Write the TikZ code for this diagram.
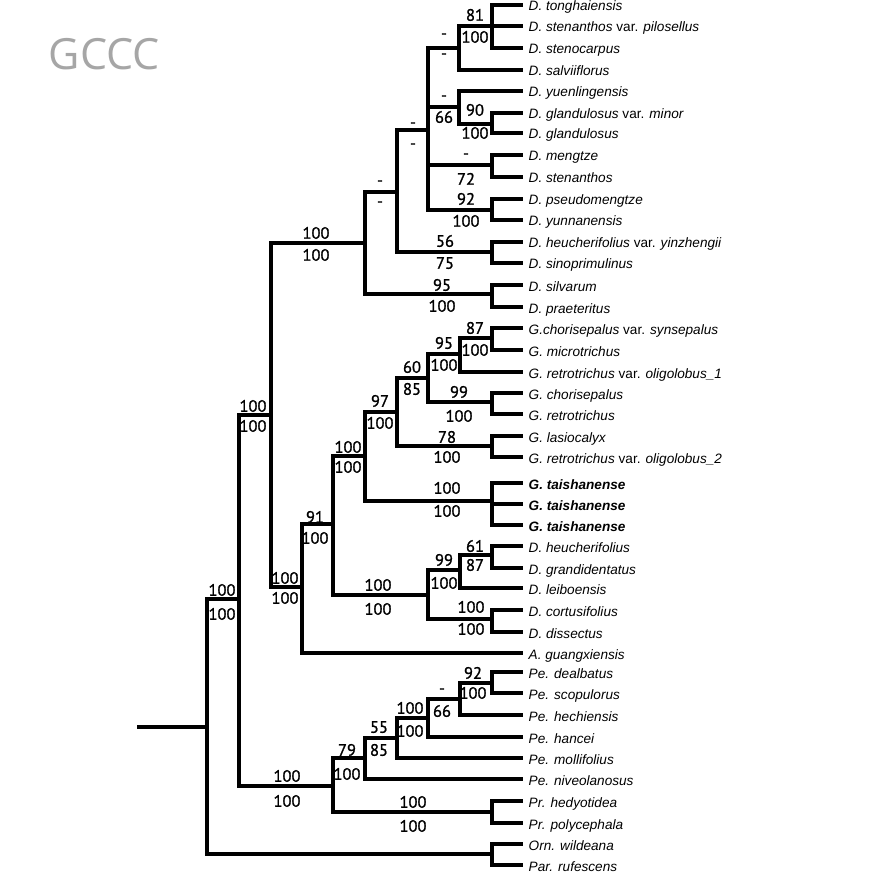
\documentclass[tikz,border=0pt]{standalone}
\usepackage{fontspec}
\setmainfont{Liberation Sans}
\newfontfamily\supfont[FakeBold=1.2]{PT Sans}
\newfontfamily\titlefont{Open Sans}
\begin{document}
\begin{tikzpicture}[x=1pt,y=-1pt,
  branch/.style={line width=3.3pt, line join=miter},
  leaf/.style={anchor=west, inner xsep=5.5pt, inner ysep=0pt, text height=15pt, text depth=3pt, font=\fontsize{13.6}{14}\selectfont\itshape},
  taish/.style={leaf, font=\fontsize{13.6}{14}\selectfont\bfseries\itshape},
  sup/.style={inner sep=0pt, text height=11.5pt, text depth=0pt, font=\supfont\fontsize{16.5}{17}\selectfont},
  title/.style={anchor=base west, inner sep=0pt, text=black!35, font=\titlefont\fontsize{43}{43}\selectfont}]
\useasboundingbox (0,0) rectangle (871,874);
\fill[white] (0,0) rectangle (871,874);
\node[title] (ttl) at (48.5,70) {GCCC};
% leaves
\node[leaf] (n1) at (523,5) {D. tonghaiensis};
\node[leaf] (n2) at (523,26) {D. stenanthos {\upshape var.} pilosellus};
\node[leaf] (n3) at (523,48) {D. stenocarpus};
\node[leaf] (n4) at (523,70) {D. salviiflorus};
\node[leaf] (n5) at (523,91) {D. yuenlingensis};
\node[leaf] (n6) at (523,113) {D. glandulosus {\upshape var.} minor};
\node[leaf] (n7) at (523,133) {D. glandulosus};
\node[leaf] (n8) at (523,155) {D. mengtze};
\node[leaf] (n9) at (523,177) {D. stenanthos};
\node[leaf] (n10) at (523,199) {D. pseudomengtze};
\node[leaf] (n11) at (523,220) {D. yunnanensis};
\node[leaf] (n12) at (523,242) {D. heucherifolius {\upshape var.} yinzhengii};
\node[leaf] (n13) at (523,263) {D. sinoprimulinus};
\node[leaf] (n14) at (523,285) {D. silvarum};
\node[leaf] (n15) at (523,307) {D. praeteritus};
\node[leaf] (n16) at (523,328) {G.chorisepalus {\upshape var.} synsepalus};
\node[leaf] (n17) at (523,350) {G. microtrichus};
\node[leaf] (n18) at (523,372) {G. retrotrichus {\upshape var.} oligolobus\_1};
\node[leaf] (n19) at (523,393) {G. chorisepalus};
\node[leaf] (n20) at (523,414) {G. retrotrichus};
\node[leaf] (n21) at (523,436) {G. lasiocalyx};
\node[leaf] (n22) at (523,457) {G. retrotrichus {\upshape var.} oligolobus\_2};
\node[taish] (n23) at (523,483) {G. taishanense};
\node[taish] (n24) at (523,504) {G. taishanense};
\node[taish] (n25) at (523,525) {G. taishanense};
\node[leaf] (n26) at (523,546) {D. heucherifolius};
\node[leaf] (n27) at (523,568) {D. grandidentatus};
\node[leaf] (n28) at (523,588) {D. leiboensis};
\node[leaf] (n29) at (523,610) {D. cortusifolius};
\node[leaf] (n30) at (523,632) {D. dissectus};
\node[leaf] (n31) at (523,653) {A. guangxiensis};
\node[leaf] (n32) at (523,672) {Pe. dealbatus};
\node[leaf] (n33) at (523,693) {Pe. scopulorus};
\node[leaf] (n34) at (523,715) {Pe. hechiensis};
\node[leaf] (n35) at (523,737) {Pe. hancei};
\node[leaf] (n36) at (523,758) {Pe. mollifolius};
\node[leaf] (n37) at (523,779) {Pe. niveolanosus};
\node[leaf] (n38) at (523,801) {Pr. hedyotidea};
\node[leaf] (n39) at (523,823) {Pr. polycephala};
\node[leaf] (n40) at (523,844) {Orn. wildeana};
\node[leaf] (n41) at (523,865) {Par. rufescens};
% internal nodes
\coordinate (A) at (492,26);
\coordinate (B) at (459,48);
\coordinate (G) at (492,124);
\coordinate (D) at (459,107);
\coordinate (E) at (492,165);
\coordinate (F) at (492,210);
\coordinate (C) at (428,130);
\coordinate (I) at (492,252);
\coordinate (H) at (397,192);
\coordinate (K) at (492,294);
\coordinate (J) at (365,243);
\coordinate (X) at (492,338);
\coordinate (W) at (460,354);
\coordinate (V) at (492,402);
\coordinate (U) at (428,378);
\coordinate (T) at (492,446);
\coordinate (S) at (397,412);
\coordinate (R) at (492,501);
\coordinate (Q) at (365,456);
\coordinate (AA) at (492,555);
\coordinate (Z) at (460,570);
\coordinate (BB) at (492,619);
\coordinate (Y) at (428,595);
\coordinate (P) at (333,524);
\coordinate (O) at (302,587);
\coordinate (L) at (271,415);
\coordinate (II) at (492,683);
\coordinate (HH) at (460,699);
\coordinate (GG) at (428,718);
\coordinate (FF) at (397,738);
\coordinate (DD) at (365,758);
\coordinate (EE) at (492,812);
\coordinate (CC) at (333,786);
\coordinate (M) at (239,599);
\coordinate (JJ) at (492,854);
\coordinate (N) at (207,727);
\coordinate (root) at (137,727);
% connectors
\draw[branch] (A) |- (n1.west); \draw[branch] (A) |- (n2.west); \draw[branch] (A) |- (n3.west);
\draw[branch] (B) |- (A); \draw[branch] (B) |- (n4.west);
\draw[branch] (G) |- (n6.west); \draw[branch] (G) |- (n7.west);
\draw[branch] (D) |- (n5.west); \draw[branch] (D) |- (G);
\draw[branch] (E) |- (n8.west); \draw[branch] (E) |- (n9.west);
\draw[branch] (F) |- (n10.west); \draw[branch] (F) |- (n11.west);
\draw[branch] (C) |- (B); \draw[branch] (C) |- (D); \draw[branch] (C) |- (E); \draw[branch] (C) |- (F);
\draw[branch] (I) |- (n12.west); \draw[branch] (I) |- (n13.west);
\draw[branch] (H) |- (C); \draw[branch] (H) |- (I);
\draw[branch] (K) |- (n14.west); \draw[branch] (K) |- (n15.west);
\draw[branch] (J) |- (H); \draw[branch] (J) |- (K);
\draw[branch] (X) |- (n16.west); \draw[branch] (X) |- (n17.west);
\draw[branch] (W) |- (X); \draw[branch] (W) |- (n18.west);
\draw[branch] (V) |- (n19.west); \draw[branch] (V) |- (n20.west);
\draw[branch] (U) |- (W); \draw[branch] (U) |- (V);
\draw[branch] (T) |- (n21.west); \draw[branch] (T) |- (n22.west);
\draw[branch] (S) |- (U); \draw[branch] (S) |- (T);
\draw[branch] (R) |- (n23.west); \draw[branch] (R) |- (n24.west); \draw[branch] (R) |- (n25.west);
\draw[branch] (Q) |- (S); \draw[branch] (Q) |- (R);
\draw[branch] (AA) |- (n26.west); \draw[branch] (AA) |- (n27.west);
\draw[branch] (Z) |- (AA); \draw[branch] (Z) |- (n28.west);
\draw[branch] (BB) |- (n29.west); \draw[branch] (BB) |- (n30.west);
\draw[branch] (Y) |- (Z); \draw[branch] (Y) |- (BB);
\draw[branch] (P) |- (Q); \draw[branch] (P) |- (Y);
\draw[branch] (O) |- (P); \draw[branch] (O) |- (n31.west);
\draw[branch] (L) |- (J); \draw[branch] (L) |- (O);
\draw[branch] (II) |- (n32.west); \draw[branch] (II) |- (n33.west);
\draw[branch] (HH) |- (II); \draw[branch] (HH) |- (n34.west);
\draw[branch] (GG) |- (HH); \draw[branch] (GG) |- (n35.west);
\draw[branch] (FF) |- (GG); \draw[branch] (FF) |- (n36.west);
\draw[branch] (DD) |- (FF); \draw[branch] (DD) |- (n37.west);
\draw[branch] (EE) |- (n38.west); \draw[branch] (EE) |- (n39.west);
\draw[branch] (CC) |- (DD); \draw[branch] (CC) |- (EE);
\draw[branch] (M) |- (L); \draw[branch] (M) |- (CC);
\draw[branch] (JJ) |- (n40.west); \draw[branch] (JJ) |- (n41.west);
\draw[branch] (N) |- (M); \draw[branch] (N) |- (JJ);
\draw[branch] (root) -- (N);
% support values
\node[sup] (sA1) at (475,15) {81};   \node[sup] (sA2) at (475,37) {100};
\node[sup] (sB1) at (444,33) {-};    \node[sup] (sB2) at (444,53) {-};
\node[sup] (sD1) at (444,95) {-};    \node[sup] (sD2) at (444,117) {66};
\node[sup] (sG1) at (475,110) {90};  \node[sup] (sG2) at (475,133) {100};
\node[sup] (sC1) at (413,122) {-};   \node[sup] (sC2) at (413,143) {-};
\node[sup] (sE1) at (466,153) {-};   \node[sup] (sE2) at (466,179) {72};
\node[sup] (sF1) at (466,199) {92};  \node[sup] (sF2) at (466,221) {100};
\node[sup] (sH1) at (380,180) {-};   \node[sup] (sH2) at (380,201) {-};
\node[sup] (sI1) at (445,241) {56};  \node[sup] (sI2) at (445,263) {75};
\node[sup] (sK1) at (442,285) {95};  \node[sup] (sK2) at (442,306) {100};
\node[sup] (sJ1) at (316,233) {100}; \node[sup] (sJ2) at (316,255) {100};
\node[sup] (sX1) at (475,328) {87};  \node[sup] (sX2) at (475,350) {100};
\node[sup] (sW1) at (444,343) {95};  \node[sup] (sW2) at (444,365) {100};
\node[sup] (sV1) at (459,392) {99};  \node[sup] (sV2) at (459,416) {100};
\node[sup] (sU1) at (412,367) {60};  \node[sup] (sU2) at (412,389) {85};
\node[sup] (sT1) at (447,437) {78};  \node[sup] (sT2) at (447,457) {100};
\node[sup] (sS1) at (380,401) {97};  \node[sup] (sS2) at (380,423) {100};
\node[sup] (sQ1) at (348,447) {100}; \node[sup] (sQ2) at (348,467) {100};
\node[sup] (sL1) at (253,406) {100}; \node[sup] (sL2) at (253,426) {100};
\node[sup] (sR1) at (447,488) {100}; \node[sup] (sR2) at (447,511) {100};
\node[sup] (sP1) at (315,517) {91};  \node[sup] (sP2) at (315,538) {100};
\node[sup] (sAA1) at (475,546) {61}; \node[sup] (sAA2) at (475,565) {87};
\node[sup] (sZ1) at (444,560) {99};  \node[sup] (sZ2) at (444,583) {100};
\node[sup] (sBB1) at (471,607) {100}; \node[sup] (sBB2) at (471,629) {100};
\node[sup] (sY1) at (378,585) {100}; \node[sup] (sY2) at (378,609) {100};
\node[sup] (sO1) at (285,578) {100}; \node[sup] (sO2) at (285,598) {100};
\node[sup] (sM1) at (222,590) {100}; \node[sup] (sM2) at (222,614) {100};
\node[sup] (sII1) at (473,673) {92}; \node[sup] (sII2) at (473,693) {100};
\node[sup] (sHH1) at (442,688) {-};  \node[sup] (sHH2) at (442,711) {66};
\node[sup] (sGG1) at (410,708) {100}; \node[sup] (sGG2) at (410,731) {100};
\node[sup] (sFF1) at (379,727) {55}; \node[sup] (sFF2) at (379,750) {85};
\node[sup] (sDD1) at (347,750) {79}; \node[sup] (sDD2) at (347,774) {100};
\node[sup] (sEE1) at (413,802) {100}; \node[sup] (sEE2) at (413,826) {100};
\node[sup] (sCC1) at (287,776) {100}; \node[sup] (sCC2) at (287,801) {100};
\end{tikzpicture}
\end{document}
